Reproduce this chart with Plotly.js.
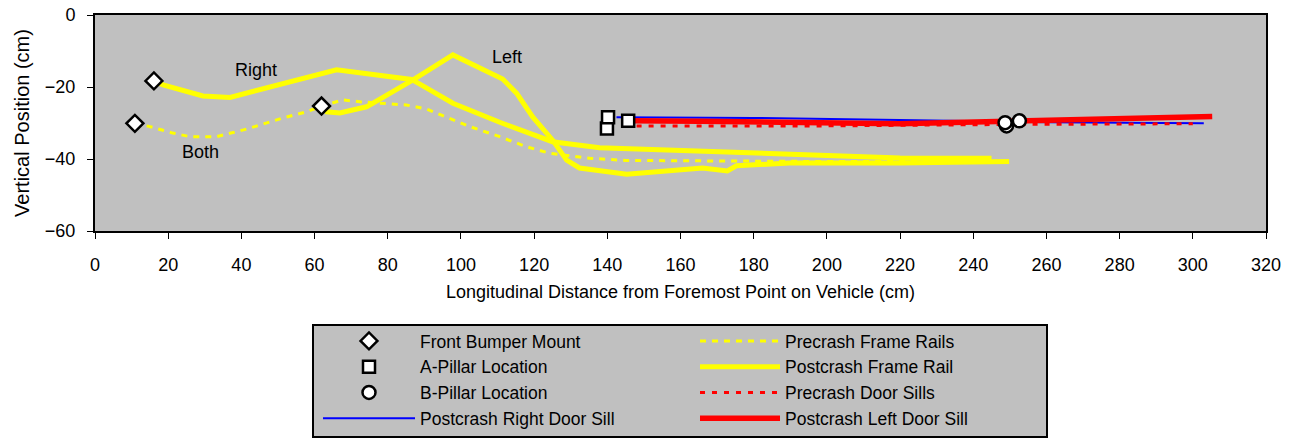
<!DOCTYPE html>
<html>
<head>
<meta charset="utf-8">
<script src="https://cdn.plot.ly/plotly-3.0.1.min.js"></script>
<style>html,body{margin:0;padding:0;background:#fff;}#chart{width:1293px;height:440px;}</style>
</head>
<body>
<div id="chart"></div>
<script>
// ---- data ----
var bumperX = [10.9, 16.1, 61.9];
var bumperY = [-30.1, -18.3, -25.3];
var aPillarX = [139.9, 140.2, 145.7];
var aPillarY = [-31.5, -28.4, -29.4];
var bPillarX = [249.1, 248.7, 252.6];
var bPillarY = [-30.8, -29.9, -29.4];

var precrashRailX = [10.9, 15, 21.3, 25.9, 33.2, 41.4, 51.4, 57.8, 61.9, 67.7, 72.4, 85.1, 90.6, 97.8, 102.4, 110.6, 117.9, 124.2, 130.5, 135.2, 145, 170, 200, 245];
var precrashRailY = [-30.1, -31, -32.8, -33.8, -33.8, -31.7, -28.6, -26.9, -25.3, -23.6, -24.1, -25, -26.1, -29.2, -31, -33.8, -36.6, -38.4, -39.3, -39.8, -40.4, -40.6, -40.7, -40.6];

var postRightRailX = [16.1, 18.6, 29.5, 36.9, 66, 86.5, 91.5, 97.8, 110.6, 119.6, 125, 137.9, 143.3, 166, 190, 220, 245];
var postRightRailY = [-18.3, -19.4, -22.5, -22.9, -15.2, -17.9, -20.8, -24.5, -29.8, -33.4, -35.2, -36.9, -37.1, -38, -38.6, -39.7, -39.8];

var postLeftRailX = [61.9, 63.3, 66.9, 74.2, 86.9, 97.8, 111.4, 115.2, 119.6, 125, 128.9, 132.4, 145.3, 166, 172.8, 175.3, 189.8, 219.8, 249.8];
var postLeftRailY = [-25.3, -26.9, -27.2, -25.5, -18, -11.1, -17.8, -21.7, -28.3, -34.7, -40.3, -42.5, -44.2, -42.5, -43.3, -41.9, -41.1, -41.1, -40.7];

var rightSillX = [142.5, 180, 219.8, 260, 303];
var rightSillY = [-28.4, -28.6, -29.2, -29.8, -30.1];
var precrashSillX = [148, 200, 250, 300];
var precrashSillY = [-30.8, -30.8, -30.4, -30.2];
var leftSillX = [145.7, 165.2, 219.8, 250, 280.7, 305.3];
var leftSillY = [-29.4, -29.5, -30.2, -29.6, -29, -28.2];

var labelText = ['Right', 'Left', 'Both'];
var labelX = [44, 112.5, 28.7];
var labelY = [-15.3, -11.7, -38];

var xTicks = [0, 20, 40, 60, 80, 100, 120, 140, 160, 180, 200, 220, 240, 260, 280, 300, 320];
var yTicks = [-60, -40, -20, 0];

// ---- chart ----
var FONT = 'Liberation Sans, Arial, sans-serif';
var YEL = '#FFFF00', RED = '#FF0000', BLUE = '#0000FF';
var mk = {color: '#FFFFFF', size: 12, line: {color: '#000000', width: 2.5}};

var traces = [
  {x: precrashRailX, y: precrashRailY, mode: 'lines', name: 'Precrash Frame Rails',
   line: {color: YEL, width: 3, dash: '6px,6px'}, legend: 'legend2', legendrank: 1},
  {x: postRightRailX, y: postRightRailY, mode: 'lines', name: 'Postcrash Frame Rail',
   line: {color: YEL, width: 5}, legend: 'legend2', legendrank: 2, legendgroup: 'pfr'},
  {x: postLeftRailX, y: postLeftRailY, mode: 'lines', name: 'Postcrash Frame Rail',
   line: {color: YEL, width: 5}, legend: 'legend2', legendgroup: 'pfr', showlegend: false},
  {x: rightSillX, y: rightSillY, mode: 'lines', name: 'Postcrash Right Door Sill',
   line: {color: BLUE, width: 2}, legend: 'legend', legendrank: 4},
  {x: precrashSillX, y: precrashSillY, mode: 'lines', name: 'Precrash Door Sills',
   line: {color: RED, width: 3, dash: '5px,7px'}, legend: 'legend2', legendrank: 3},
  {x: leftSillX, y: leftSillY, mode: 'lines', name: 'Postcrash Left Door Sill',
   line: {color: RED, width: 5.5}, legend: 'legend2', legendrank: 4},
  {x: bumperX, y: bumperY, mode: 'markers', name: 'Front Bumper Mount',
   marker: Object.assign({symbol: 'diamond'}, mk, {size: 13}), legend: 'legend', legendrank: 1},
  {x: aPillarX, y: aPillarY, mode: 'markers', name: 'A-Pillar Location',
   marker: Object.assign({symbol: 'square'}, mk), legend: 'legend', legendrank: 2},
  {x: bPillarX, y: bPillarY, mode: 'markers', name: 'B-Pillar Location',
   marker: Object.assign({symbol: 'circle'}, mk, {size: 13}), legend: 'legend', legendrank: 3}
];

var annotations = labelText.map(function (t, i) {
  return {x: labelX[i], y: labelY[i], xref: 'x', yref: 'y', text: t, showarrow: false,
          font: {family: FONT, size: 18, color: '#000'}};
});

var axBase = {showgrid: false, zeroline: false, showline: true, linecolor: '#000', linewidth: 2,
              mirror: true, ticks: 'outside', ticklen: 6, tickwidth: 1, tickcolor: '#000',
              tickfont: {family: FONT, size: 18, color: '#000'}};

var layout = {
  width: 1293, height: 440,
  margin: {l: 95, r: 27, t: 15, b: 209, pad: 0, autoexpand: false},
  paper_bgcolor: '#FFFFFF', plot_bgcolor: '#C0C0C0',
  font: {family: FONT, size: 18, color: '#000'},
  xaxis: Object.assign({}, axBase, {range: [0, 320], tickvals: xTicks, ticklabelstandoff: 10,
    title: {text: 'Longitudinal Distance from Foremost Point on Vehicle (cm)', font: {family: FONT, size: 18}, standoff: 12}}),
  yaxis: Object.assign({}, axBase, {range: [-60, 0], tickvals: yTicks, ticklabelstandoff: 8,
    title: {text: 'Vertical Position (cm)', font: {family: FONT, size: 20}, standoff: 10}}),
  xaxis2: {overlaying: 'x', anchor: 'y', side: 'bottom', range: [0, 320], tickvals: xTicks, ticks: 'inside',
    ticklen: 6, tickcolor: '#000', showticklabels: false, showgrid: false, zeroline: false, showline: false},
  yaxis2: {overlaying: 'y', anchor: 'x', side: 'left', range: [-60, 0], tickvals: yTicks, ticks: 'inside',
    ticklen: 6, tickcolor: '#000', showticklabels: false, showgrid: false, zeroline: false, showline: false},
  showlegend: true,
  legend: {orientation: 'v', x: (318 - 95) / 1171, xanchor: 'left', y: (231 - 323) / 216, yanchor: 'top',
    bgcolor: 'rgba(0,0,0,0)', borderwidth: 0, itemwidth: 92, tracegroupgap: 0,
    font: {family: FONT, size: 17.5, color: '#000'}, traceorder: 'normal'},
  legend2: {orientation: 'v', x: (695 - 95) / 1171, xanchor: 'left', y: (231 - 323) / 216, yanchor: 'top',
    bgcolor: 'rgba(0,0,0,0)', borderwidth: 0, itemwidth: 80, tracegroupgap: 0,
    font: {family: FONT, size: 17.5, color: '#000'}, traceorder: 'normal'},
  shapes: [{type: 'rect', xref: 'paper', yref: 'paper', layer: 'below',
    x0: (313 - 95) / 1171, x1: (1047 - 95) / 1171, y0: (231 - 437) / 216, y1: (231 - 325) / 216,
    fillcolor: '#C0C0C0', line: {color: '#000', width: 2}}],
  annotations: annotations
};

Plotly.newPlot('chart', traces, layout, {displayModeBar: false, staticPlot: true});
</script>
</body>
</html>
